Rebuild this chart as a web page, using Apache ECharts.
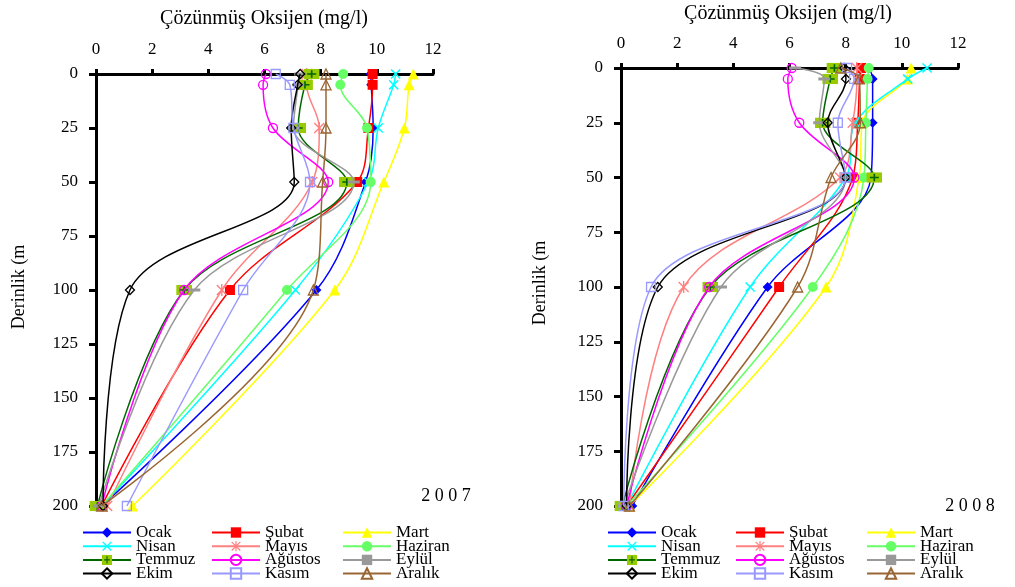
<!DOCTYPE html>
<html><head><meta charset="utf-8">
<script src="https://cdn.jsdelivr.net/npm/echarts@6/dist/echarts.min.js"></script>
<style>html,body{margin:0;padding:0;background:#fff}#c{width:1015px;height:587px}</style>
</head><body><div id="c"></div>
<script>
// ---------- data ----------
const depths = [0, 5, 25, 50, 100, 200];
const xTicks = [0, 2, 4, 6, 8, 10, 12];
const yTicks = [0, 25, 50, 75, 100, 125, 150, 175, 200];
const months = ['Ocak','Şubat','Mart','Nisan','Mayıs','Haziran','Temmuz','Ağustos','Eylül','Ekim','Kasım','Aralık'];

// 2007 dissolved oxygen (mg/l) at depths 0,5,25,50,100,200
const y2007_ocak    = [9.78, 9.80, 9.87, 9.60, 7.85, 0.20];
const y2007_subat   = [9.85, 9.85, 9.70, 9.30, 4.77, 0.20];
const y2007_mart    = [11.30, 11.15, 10.98, 10.25, 8.50, 1.30];
const y2007_nisan   = [10.67, 10.60, 10.05, 9.70, 7.10, 0.20];
const y2007_mayis   = [7.50, 7.50, 7.95, 7.70, 4.48, 0.40];
const y2007_haziran = [8.80, 8.70, 9.65, 9.78, 6.80, 0.20];
const y2007_temmuz  = [7.68, 7.44, 7.20, 8.93, 3.14, 0.05];
const y2007_agustos = [6.05, 5.95, 6.30, 8.27, 3.14, 0.20];
const y2007_eylul   = [7.27, 7.20, 7.03, 9.18, 3.50, 0.10];
const y2007_ekim    = [7.27, 7.18, 6.95, 7.06, 1.21, 0.25];
const y2007_kasim   = [6.40, 6.90, 7.03, 7.62, 5.24, 1.10];
const y2007_aralik  = [8.19, 8.19, 8.19, 8.07, 7.74, 0.20];

// 2008
const y2008_ocak    = [8.83, 8.96, 8.96, 8.90, 5.22, 0.40];
const y2008_subat   = [8.55, 8.50, 8.43, 8.25, 5.63, 0.20];
const y2008_mart    = [10.33, 10.20, 8.60, 8.48, 7.30, 0.30];
const y2008_nisan   = [10.90, 10.21, 8.35, 8.00, 4.60, 0.20];
const y2008_mayis   = [8.40, 8.40, 8.25, 7.80, 2.23, 0.30];
const y2008_haziran = [8.82, 8.78, 8.72, 8.65, 6.83, 0.20];
const y2008_temmuz  = [7.60, 7.45, 7.18, 9.02, 3.18, 0.05];
const y2008_agustos = [6.08, 5.94, 6.35, 8.31, 3.14, 0.20];
const y2008_eylul   = [6.20, 7.24, 7.06, 8.00, 3.56, 0.10];
const y2008_ekim    = [7.95, 8.01, 7.36, 8.00, 1.31, 0.20];
const y2008_kasim   = [8.05, 8.30, 7.72, 8.00, 1.07, 0.10];
const y2008_aralik  = [7.83, 8.49, 8.52, 7.48, 6.29, 0.30];

const data2007 = [y2007_ocak,y2007_subat,y2007_mart,y2007_nisan,y2007_mayis,y2007_haziran,y2007_temmuz,y2007_agustos,y2007_eylul,y2007_ekim,y2007_kasim,y2007_aralik];
const data2008 = [y2008_ocak,y2008_subat,y2008_mart,y2008_nisan,y2008_mayis,y2008_haziran,y2008_temmuz,y2008_agustos,y2008_eylul,y2008_ekim,y2008_kasim,y2008_aralik];

// ---------- styles ----------
const svgUri = s => 'image://data:image/svg+xml;charset=utf-8,' + encodeURIComponent(s);
const crossSym = svgUri("<svg xmlns='http://www.w3.org/2000/svg' width='12' height='12'><path d='M1 1L11 11M11 1L1 11' stroke='#00ffff' stroke-width='1.6' fill='none'/></svg>");
const starSym = svgUri("<svg xmlns='http://www.w3.org/2000/svg' width='12' height='12'><path d='M1 1L11 11M11 1L1 11M6 0V12' stroke='#ff8080' stroke-width='1.4' fill='none'/></svg>");
const plusSym = svgUri("<svg xmlns='http://www.w3.org/2000/svg' width='16' height='13'><rect width='16' height='13' fill='#99cc00'/><path d='M8 2V11M3.5 6.5H12.5' stroke='#006600' stroke-width='1.7' fill='none'/></svg>");

const styles = [
  {c:'#0000ff', sym:'diamond', size:10, fill:'#0000ff'},
  {c:'#ff0000', sym:'rect', size:10, fill:'#ff0000'},
  {c:'#ffff00', sym:'triangle', size:11, fill:'#ffff00'},
  {c:'#00ffff', sym:crossSym, size:11},
  {c:'#ff8080', sym:starSym, size:12},
  {c:'#66ff66', sym:'circle', size:10, fill:'#66ff66'},
  {c:'#006600', sym:plusSym, size:[16,13]},
  {c:'#ff00ff', sym:'circle', size:9, fill:'rgba(255,255,255,0)', border:'#ff00ff'},
  {c:'#999999', sym:'rect', size:[12,3], fill:'#999999'},
  {c:'#000000', sym:'diamond', size:9, fill:'rgba(255,255,255,0)', border:'#000000'},
  {c:'#9999ff', sym:'rect', size:9, fill:'rgba(255,255,255,0)', border:'#9999ff'},
  {c:'#996633', sym:'triangle', size:10, fill:'rgba(255,255,255,0)', border:'#996633'}
];

const FONT = '"Liberation Serif","Times New Roman",serif';

function makeSeries(arr, gi) {
  return arr.map((vals, i) => {
    const st = styles[i];
    return {
      type: 'line', name: months[i], xAxisIndex: gi, yAxisIndex: gi,
      data: depths.map((d, k) => [vals[k], d]),
      smooth: 0.35,
      symbol: st.sym, symbolSize: st.size, symbolKeepAspect: true,
      lineStyle: {color: st.c, width: 1.5},
      itemStyle: st.border ? {color: st.fill, borderColor: st.border, borderWidth: 1.3}
                           : {color: st.fill || st.c, borderWidth: 0},
      emphasis: {disabled: true},
      z: 2 + i
    };
  });
}

const grids = [
  {left: 96, top: 74, width: 337, height: 432},
  {left: 621, top: 68, width: 337, height: 438}
];

function xAxisOf(gi) {
  return {
    type: 'value', gridIndex: gi, position: 'top', min: xTicks[0], max: xTicks[xTicks.length-1], interval: 2,
    axisLine: {show: true, onZero: false, lineStyle: {color: '#000', width: 3}},
    axisTick: {show: true, inside: false, length: 5, lineStyle: {color: '#000', width: 3}},
    axisLabel: {color: '#000', fontFamily: FONT, fontSize: 17, margin: 16},
    splitLine: {show: false}
  };
}
function yAxisOf(gi) {
  return {
    type: 'value', gridIndex: gi, inverse: true, min: yTicks[0], max: yTicks[yTicks.length-1], interval: 25,
    axisLine: {show: true, onZero: false, lineStyle: {color: '#000', width: 3}},
    axisTick: {show: true, length: 7, lineStyle: {color: '#000', width: 3}},
    axisLabel: {color: '#000', fontFamily: FONT, fontSize: 17, margin: 18},
    splitLine: {show: false}
  };
}

// legend grid: 3 columns x 4 rows, one legend component per entry
const legendCols = [
  ['Ocak','Nisan','Temmuz','Ekim'],
  ['Şubat','Mayıs','Ağustos','Kasım'],
  ['Mart','Haziran','Eylül','Aralık']
];
const legendLefts = [[82, 211, 342], [607, 735, 866]];
const legendRowCenters = [532, 545.7, 559.4, 573];
const legends = [];
legendLefts.forEach(cols => cols.forEach((lx, ci) => {
  legendCols[ci].forEach((name, ri) => {
    legends.push({
      orient: 'horizontal', left: lx, top: legendRowCenters[ri] - 8, height: 16,
      itemWidth: 48, itemHeight: 13, itemGap: 0,
      selectedMode: false, padding: 0,
      data: [name],
      textStyle: {fontFamily: FONT, fontSize: 17, color: '#000', lineHeight: 16}
    });
  });
}));

const txt = (x, y, s, size, extra) => Object.assign({
  type: 'text', x: x, y: y,
  style: {text: s, fontFamily: FONT, fontSize: size, fill: '#000', align: 'center', verticalAlign: 'middle'}
}, extra || {});

const chart = echarts.init(document.getElementById('c'), null, {renderer: 'canvas'});
chart.setOption({
  animation: false,
  backgroundColor: '#fff',
  grid: grids,
  xAxis: [xAxisOf(0), xAxisOf(1)],
  yAxis: [yAxisOf(0), yAxisOf(1)],
  legend: legends,
  series: makeSeries(data2007, 0).concat(makeSeries(data2008, 1)),
  graphic: [
    txt(264, 19, 'Çözünmüş Oksijen (mg/l)', 20),
    txt(788, 14, 'Çözünmüş Oksijen (mg/l)', 20),
    txt(446, 496, '2 0 0 7', 18),
    txt(970, 506, '2 0 0 8', 18),
    txt(19, 287, 'Derinlik (m', 18, {rotation: Math.PI / 2}),
    txt(540, 283, 'Derinlik (m', 18, {rotation: Math.PI / 2})
  ]
});
</script>
</body></html>
